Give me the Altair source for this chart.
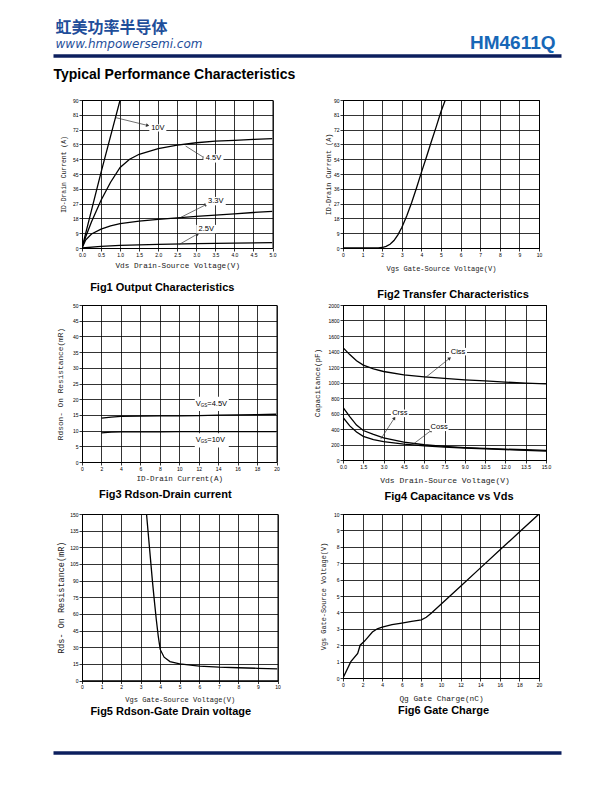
import math
import altair as alt
import pandas as pd

# ---------------- text ----------------
BRAND_CN = "虹美功率半导体"
BRAND_URL = "www.hmpowersemi.com"
PART_NO = "HM4611Q"
SECTION = "Typical Performance Characteristics"

# ---------------- Fig1 Output Characteristics ----------------
f1_vds = {
    "10V": [0, 0.25, 0.5, 0.75, 1.0],
    "4.5V": [0, 0.1, 0.25, 0.5, 0.75, 1.0, 1.25, 1.5, 2.0, 2.5, 3.0, 3.5, 4.0, 4.5, 5.0],
    "3.3V": [0, 0.1, 0.25, 0.5, 0.75, 1.0, 1.5, 2.0, 2.5, 3.0, 3.5, 4.0, 4.5, 5.0],
    "2.5V": [0, 0.5, 1.0, 2.0, 3.0, 4.0, 5.0],
}
f1_id = {
    "10V": [0, 23, 46, 68, 90],
    "4.5V": [0, 7, 16, 29, 40, 49, 54, 57, 60.5, 62.5, 64, 65, 65.5, 66, 66.5],
    "3.3V": [0, 5, 8.5, 11.5, 13.5, 14.8, 16.3, 17.4, 18.3, 19.2, 20, 20.8, 21.6, 22.3],
    "2.5V": [0, 1.0, 1.6, 2.2, 2.6, 3.0, 3.3],
}
f1_lab_text = ["10V", "4.5V", "3.3V", "2.5V"]
f1_lab_x = [1.99, 3.45, 3.51, 3.26]
f1_lab_y = [73.0, 54.5, 28.5, 11.5]
f1_lab_w = [17, 20, 20, 20]
f1_arr_x0 = [0.88, 2.72, 2.59, 2.54]
f1_arr_y0 = [79.3, 62.0, 18.6, 2.0]
f1_arr_x1 = [1.71, 3.20, 3.25, 3.03]
f1_arr_y1 = [74.6, 55.0, 26.3, 8.5]

# ---------------- Fig2 Transfer Characteristics ----------------
f2_vgs = [0, 1.0, 1.8, 2.0, 2.2, 2.4, 2.6, 2.8, 3.0, 3.25, 3.5, 3.75, 4.0, 4.25, 4.5, 4.75, 5.0, 5.22]
f2_id = [0, 0, 0, 0.3, 1.0, 2.3, 4.5, 8.0, 12.5, 19.5, 27.5, 36.5, 46, 55, 64.5, 73.5, 83, 90]

# ---------------- Fig3 Rdson-Drain current ----------------
f3_id = [2, 3, 4, 6, 8, 10, 12, 14, 16, 18, 20]
f3_r45 = [14.0, 14.3, 14.5, 14.6, 14.7, 14.7, 14.8, 14.9, 15.0, 15.1, 15.2]
f3_r10 = [9.3, 9.5, 9.6, 9.6, 9.6, 9.65, 9.7, 9.7, 9.7, 9.7, 9.7]
f3_lab_main = ["V", "V"]
f3_lab_sub = ["GS", "GS"]
f3_lab_rest = ["=4.5V", "=10V"]
f3_lab_x = [11.7, 11.7]
f3_lab_y = [18.5, 6.9]

# ---------------- Fig4 Capacitance vs Vds ----------------
f4_vds = [0, 0.5, 1.0, 1.5, 2.25, 3.0, 4.5, 6.0, 7.5, 9.0, 10.5, 12.0, 13.5, 15.0]
f4_ciss = [1450, 1360, 1280, 1225, 1175, 1142, 1099, 1073, 1052, 1034, 1021, 1005, 992, 983]
f4_coss = [680, 560, 450, 380, 330, 285, 232, 197, 176, 160, 149, 140, 132, 125]
f4_crss = [550, 440, 360, 305, 262, 237, 204, 183, 167, 155, 144, 134, 124, 114]
f4_lab_text = ["Ciss", "Crss", "Coss"]
f4_lab_x = [8.5, 4.2, 7.1]
f4_lab_y = [1398, 602, 425]
f4_lab_w = [18, 18, 19]
f4_arr_x0 = [6.1, 2.79, 5.13]
f4_arr_y0 = [1064, 270, 197]
f4_arr_x1 = [7.85, 3.78, 6.49]
f4_arr_y1 = [1309, 536, 378]

# ---------------- Fig5 Rdson-Gate Drain voltage ----------------
f5_vgs = [3.3, 3.4, 3.5, 3.6, 3.7, 3.8, 3.9, 4.0, 4.2, 4.5, 5.0, 6.0, 7.0, 8.0, 9.0, 10.0]
f5_r = [150, 130, 110, 90, 72, 55, 40, 28, 21, 17, 15, 13, 12, 11.5, 11, 10.5]

# ---------------- Fig6 Gate Charge ----------------
f6_qg = [0, 0.8, 1.5, 1.75, 2.2, 3.0, 3.5, 4.0, 5.0, 6.0, 7.0, 8.0, 8.5, 9.0, 10.0, 12.0, 14.0, 16.0, 18.0, 20.0]
f6_vgs = [0, 1.0, 1.5, 2.0, 2.25, 2.8, 3.0, 3.1, 3.25, 3.35, 3.45, 3.55, 3.7, 3.95, 4.5, 5.6, 6.7, 7.8, 8.9, 10.0]

# ---------------- styling ----------------
BLUE_CN = "#1f4e9a"
BLUE_PART = "#1767b7"
NAVY = "#0c1f5e"
BOX = "M-1,-0.42H1V0.42H-1Z"
MONO = "Liberation Mono"
SANS = "Liberation Sans"


def lines_df(series_x, series_y):
    rows = []
    for s in series_x:
        for i, (x, y) in enumerate(zip(series_x[s], series_y[s])):
            rows.append({"s": s, "i": i, "x": x, "y": y})
    return pd.DataFrame(rows)


def arrows(x0, y0, x1, y1, xpx, ypx):
    seg, heads = [], []
    for k in range(len(x0)):
        seg.append({"s": k, "i": 0, "x": x0[k], "y": y0[k]})
        seg.append({"s": k, "i": 1, "x": x1[k], "y": y1[k]})
        ang = math.degrees(math.atan2((x1[k] - x0[k]) * xpx, (y1[k] - y0[k]) * ypx)) % 360
        heads.append({"x": x1[k], "y": y1[k], "ang": ang})
    return pd.DataFrame(seg), pd.DataFrame(heads)


def panel(df, xdom, ydom, xt, yt, w, h, xtitle, ytitle, cap, cap_dx, cap_off,
          xfmt, yfmt, xtp, ytp, xts, yts, extras_fn=None):
    xs = alt.Scale(domain=xdom, nice=False, zero=False)
    ys = alt.Scale(domain=ydom, nice=False, zero=False)
    xax = alt.Axis(values=xt, format=xfmt, title=xtitle, titlePadding=xtp, titleFontSize=xts, grid=True)
    yax = alt.Axis(values=yt, format=yfmt, title=ytitle, titlePadding=ytp, titleFontSize=yts, grid=True)
    X = alt.X("x:Q", scale=xs, axis=xax)
    Y = alt.Y("y:Q", scale=ys, axis=yax)
    layers = [alt.Chart(df).mark_line(color="black", strokeWidth=1.3, clip=True).encode(
        x=X, y=Y, detail="s:N", order="i:Q")]
    if extras_fn is not None:
        layers += extras_fn(X, Y)
    return alt.layer(*layers).properties(
        width=w, height=h,
        title=alt.TitleParams(cap, orient="bottom", anchor="middle", dx=cap_dx, offset=cap_off,
                              fontSize=11, font=SANS, fontWeight="bold", color="black"),
        view=alt.ViewBackground(stroke="black", strokeWidth=1),
    )


def label_layers(X, Y, lab_df, seg_df, head_df):
    return [
        alt.Chart(seg_df).mark_line(color="#333", strokeWidth=0.7).encode(x=X, y=Y, detail="s:N", order="i:Q"),
        alt.Chart(head_df).mark_point(shape="triangle", filled=True, color="#333", opacity=1, size=14).encode(
            x=X, y=Y, angle=alt.Angle("ang:Q", scale=None)),
        alt.Chart(lab_df).mark_point(shape=BOX, filled=True, color="white", opacity=1).encode(
            x=X, y=Y, size=alt.Size("bs:Q", scale=None, legend=None)),
        alt.Chart(lab_df).mark_text(font=SANS, fontSize=7.5, color="black", baseline="middle").encode(
            x=X, y=Y, text="t:N"),
    ]


# ---- Fig1 ----
W1, H1 = 190.5, 148
f1_df = lines_df(f1_vds, f1_id)
f1_seg, f1_head = arrows(f1_arr_x0, f1_arr_y0, f1_arr_x1, f1_arr_y1, W1 / 5, H1 / 90)
f1_lab = pd.DataFrame({"t": f1_lab_text, "x": f1_lab_x, "y": f1_lab_y, "bs": [v * v for v in f1_lab_w]})
fig1 = panel(f1_df, [0, 5], [0, 90], [i * 0.5 for i in range(11)], list(range(0, 91, 9)), W1, H1,
             "Vds Drain-Source Voltage(V)", "ID-Drain Current (A)", "Fig1 Output Characteristics",
             -15, 12, ".1f", "d", 4.8, 6.2, 7.7, 6.4,
             lambda X, Y: label_layers(X, Y, f1_lab, f1_seg, f1_head))

# ---- Fig2 ----
W2, H2 = 196, 148
f2_df = lines_df({"a": f2_vgs}, {"a": f2_id})
fig2 = panel(f2_df, [0, 10], [0, 90], list(range(0, 11)), list(range(0, 91, 9)), W2, H2,
             "Vgs Gate-Source Voltage(V)", "ID-Drain Current (A)", "Fig2 Transfer Characteristics",
             12, 17, "d", "d", 7.5, 2, 7.05, 6.8)

# ---- Fig3 ----
W3, H3 = 194.5, 157
f3_df = lines_df({"4.5": f3_id, "10": f3_id}, {"4.5": f3_r45, "10": f3_r10})
u3 = W3 / 20


def f3_extras(X, Y):
    base = pd.DataFrame({"x": f3_lab_x, "y": f3_lab_y, "m": f3_lab_main, "g": f3_lab_sub, "r": f3_lab_rest})
    box = base.assign(x=[v + 16 / u3 for v in f3_lab_x], bs=[34 * 34] * len(f3_lab_x))
    return [
        alt.Chart(box).mark_point(shape=BOX, filled=True, color="white", opacity=1).encode(
            x=X, y=Y, size=alt.Size("bs:Q", scale=None, legend=None)),
        alt.Chart(base).mark_text(font=SANS, fontSize=7.5, align="left", baseline="middle").encode(x=X, y=Y, text="m:N"),
        alt.Chart(base).mark_text(font=SANS, fontSize=4.5, align="left", baseline="middle", dx=5, dy=2).encode(x=X, y=Y, text="g:N"),
        alt.Chart(base).mark_text(font=SANS, fontSize=7.5, align="left", baseline="middle", dx=11.5).encode(x=X, y=Y, text="r:N"),
    ]


fig3 = panel(f3_df, [0, 20], [0, 50], list(range(0, 21, 2)), list(range(0, 51, 5)), W3, H3,
             "ID-Drain Current(A)", "Rdson-  On  Resistance(mR)", "Fig3 Rdson-Drain current",
             -14, 7.5, "d", "d", 3.2, 7.5, 7.6, 7.8, f3_extras)

# ---- Fig4 ----
W4, H4 = 203, 155
f4_df = lines_df({"Ciss": f4_vds, "Coss": f4_vds, "Crss": f4_vds}, {"Ciss": f4_ciss, "Coss": f4_coss, "Crss": f4_crss})
f4_seg, f4_head = arrows(f4_arr_x0, f4_arr_y0, f4_arr_x1, f4_arr_y1, W4 / 15, H4 / 2000)
f4_lab = pd.DataFrame({"t": f4_lab_text, "x": f4_lab_x, "y": f4_lab_y, "bs": [v * v for v in f4_lab_w]})
fig4 = panel(f4_df, [0, 15], [0, 2000], [i * 1.5 for i in range(11)], list(range(0, 2001, 200)), W4, H4,
             "Vds Drain-Source Voltage(V)", "Capacitance(pF)", "Fig4 Capacitance vs Vds",
             4.5, 6.5, ".1f", "d", 7.7, 6.1, 8, 7.6,
             lambda X, Y: label_layers(X, Y, f4_lab, f4_seg, f4_head))

# ---- Fig5 ----
W5, H5 = 195.5, 166.5
f5_df = lines_df({"a": f5_vgs}, {"a": f5_r})
fig5 = panel(f5_df, [0, 10], [0, 150], list(range(0, 11)), list(range(0, 151, 15)), W5, H5,
             "Vgs Gate-Source Voltage(V)", "Rds-  On  Resistance(mR)", "Fig5  Rdson-Gate Drain voltage",
             -9, 3.5, "d", "d", 5.5, 4.4, 7.05, 8.5)

# ---- Fig6 ----
W6, H6 = 196, 164
f6_df = lines_df({"a": f6_qg}, {"a": f6_vgs})
fig6 = panel(f6_df, [0, 20], [0, 10], list(range(0, 21, 2)), list(range(0, 11)), W6, H6,
             "Qg Gate Charge(nC)", "Vgs Gate-Source Voltage(V)", "Fig6 Gate Charge",
             2.5, 2, "d", "d", 7.8, 7, 7.8, 6.9)

# ---- header / footer / spacers ----
one = pd.DataFrame({"k": [0]})


def spacer(h, w=190):
    return alt.Chart(one).mark_point(opacity=0).properties(
        width=w, height=h, view=alt.ViewBackground(stroke="transparent", fill="transparent"))


hdr = alt.layer(
    alt.Chart(one).mark_text(text=BRAND_CN, font="Noto Sans CJK SC", fontSize=16, fontWeight="bold",
                             color=BLUE_CN, align="left", baseline="middle").encode(
        x=alt.value(-26.5), y=alt.value(18.5)),
    alt.Chart(one).mark_text(text=BRAND_URL, font="DejaVu Sans", fontSize=12, fontStyle="italic",
                             color=BLUE_CN, align="left", baseline="middle").encode(
        x=alt.value(-26.5), y=alt.value(35)),
    alt.Chart(one).mark_text(text=PART_NO, font=SANS, fontSize=19, fontWeight="bold",
                             color=BLUE_PART, align="right", baseline="middle").encode(
        x=alt.value(473.5), y=alt.value(33.5)),
    alt.Chart(one).mark_rule(color=NAVY, strokeWidth=3.5).encode(
        x=alt.value(-28.5), x2=alt.value(479.5), y=alt.value(47)),
    alt.Chart(one).mark_text(text=SECTION, font=SANS, fontSize=14, fontWeight="bold",
                             color="black", align="left", baseline="middle").encode(
        x=alt.value(-28.5), y=alt.value(66)),
).properties(width=190, height=91, view=alt.ViewBackground(stroke="transparent", fill="white"))

ftr = alt.layer(
    alt.Chart(one).mark_rule(color=NAVY, strokeWidth=3.5).encode(
        x=alt.value(-28.5), x2=alt.value(479.5), y=alt.value(72)),
).properties(width=190, height=80, view=alt.ViewBackground(stroke="transparent", fill="transparent"))

chart = alt.concat(
    hdr, spacer(91),
    fig1, fig2,
    spacer(57), spacer(57),
    fig3, fig4,
    spacer(51.5), spacer(51.5),
    fig5, fig6,
    ftr,
    columns=2, spacing={"row": 0, "column": 65}, bounds="flush",
).properties(
    padding={"left": 43, "top": 0, "right": 0, "bottom": 0},
).configure_axis(
    labelFont=SANS, labelFontSize=5, labelColor="black", labelPadding=1, labelOverlap=False,
    labelFlush=False, tickColor="black", tickSize=3, tickWidth=0.8,
    domainColor="black", domainWidth=1, gridColor="black", gridWidth=0.8, gridOpacity=1,
    titleFont=MONO, titleFontWeight="normal", titleColor="#222",
).configure_view(stroke="black")

chart.save("out.html", embed_options={"renderer": "svg", "actions": False})
